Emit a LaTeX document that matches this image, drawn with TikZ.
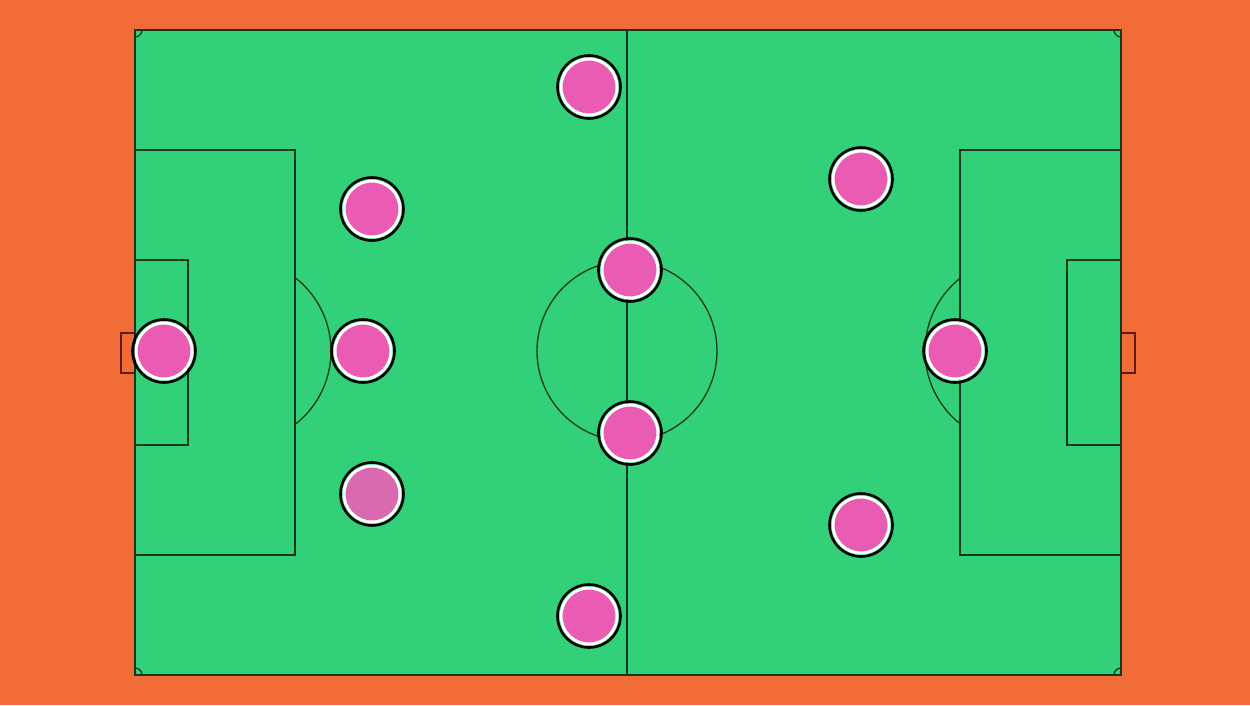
\documentclass[tikz,border=0pt]{standalone}
\definecolor{bgorange}{RGB}{241,108,54}
\definecolor{pitch}{RGB}{50,209,121}
\definecolor{pline}{RGB}{25,55,30}
\definecolor{ppink}{RGB}{234,92,180}
\definecolor{ppinkdull}{RGB}{218,106,175}
\definecolor{goalred}{RGB}{100,25,15}
\begin{document}
\begin{tikzpicture}[x=1pt,y=-1pt,
  fieldline/.style={draw=pline,line width=1.3pt},
  player/.style={circle,fill=ppink,draw=white,line width=3pt,minimum size=56pt,inner sep=0pt},
  ring/.style={circle,draw=black,line width=2.6pt,minimum size=63pt,inner sep=0pt}
]
\useasboundingbox (0,0) rectangle (1250,705);
\fill[bgorange] (0,0) rectangle (1250,705);
\fill[pitch] (135,30) rectangle (1121,675);
% goals
\draw[draw=goalred,line width=1.3pt] (135,333) -- (121,333) -- (121,373) -- (135,373);
\draw[draw=goalred,line width=1.3pt] (1121,333) -- (1135,333) -- (1135,373) -- (1121,373);
% outline
\draw[fieldline,line width=1.8pt] (135,30) rectangle (1121,675);
% halfway line and centre circle
\draw[fieldline,line width=1.6pt] (627,30) -- (627,675);
\draw[fieldline] (627,351) circle[radius=90];
% left boxes
\draw[fieldline] (135,150) -- (295,150) -- (295,555) -- (135,555);
\draw[fieldline] (135,260) -- (188,260) -- (188,445) -- (135,445);
\begin{scope}
\clip (295,0) rectangle (1250,705);
\draw[fieldline] (238,351) circle[radius=93];
\end{scope}
% right boxes
\draw[fieldline] (1121,150) -- (960,150) -- (960,555) -- (1121,555);
\draw[fieldline] (1121,260) -- (1067,260) -- (1067,445) -- (1121,445);
\begin{scope}
\clip (0,0) rectangle (960,705);
\draw[fieldline] (1018,351) circle[radius=93];
\end{scope}
% corner arcs
\draw[fieldline] (135,37) arc[start angle=90,end angle=0,radius=7];
\draw[fieldline] (1114,30) arc[start angle=180,end angle=90,radius=7];
\draw[fieldline] (135,668) arc[start angle=-90,end angle=0,radius=7];
\draw[fieldline] (1114,675) arc[start angle=180,end angle=270,radius=7];
% players
\foreach \n/\px/\py in {gk/164/351, lb/372/209, cb/363/351, ltop/589/87, cm1/630/270, cm2/630/433, lbot/589/616, rw1/861/179, st/955/351, rw2/861/525}{
  \node[ring] (r\n) at (\px,\py) {};
  \node[player] (\n) at (\px,\py) {};
}
\node[ring] (rrb) at (372,494) {};
\node[player,fill=ppinkdull] (rb) at (372,494) {};
\end{tikzpicture}
\end{document}
